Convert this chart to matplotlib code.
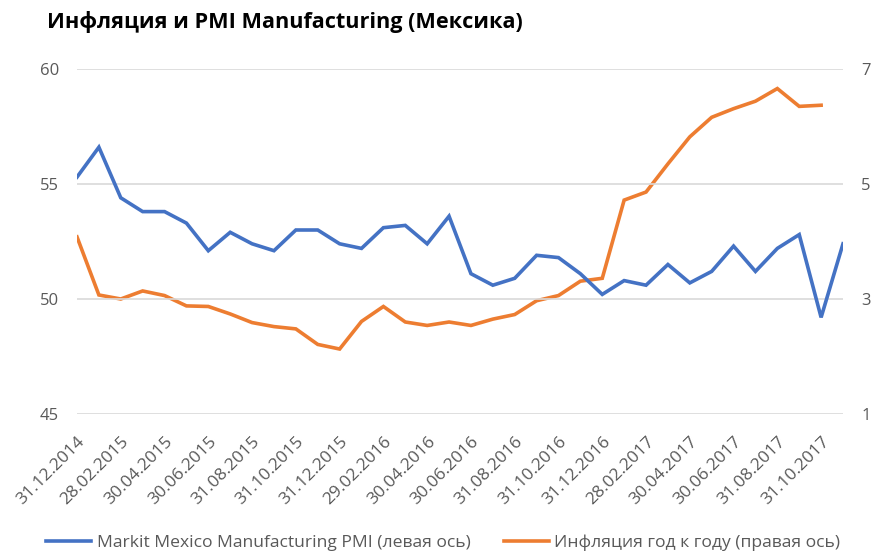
import numpy as np
import pandas as pd
from matplotlib import pyplot as plt

plt.rcParams['font.family'] = ['Open Sans', 'DejaVu Sans']

# Month-end dates, Dec 2014 .. Nov 2017
dates = pd.date_range("2014-12-31", periods=36, freq="ME").strftime("%d.%m.%Y").tolist()

# Markit Mexico Manufacturing PMI (left axis)
pmi = [55.3, 56.6, 54.4, 53.8, 53.8, 53.3, 52.1, 52.9, 52.4, 52.1,
       53.0, 53.0, 52.4, 52.2, 53.1, 53.2, 52.4, 53.6, 51.1, 50.6,
       50.9, 51.9, 51.8, 51.1, 50.2, 50.8, 50.6, 51.5, 50.7, 51.2,
       52.3, 51.2, 52.2, 52.8, 49.2, 52.4]

# Inflation y/y, % (right axis), through Oct 2017
inflation = [4.08, 3.07, 3.00, 3.14, 3.06, 2.88, 2.87, 2.74, 2.59, 2.52,
             2.48, 2.21, 2.13, 2.61, 2.87, 2.60, 2.54, 2.60, 2.54, 2.65,
             2.73, 2.97, 3.06, 3.31, 3.36, 4.72, 4.86, 5.35, 5.82, 6.16,
             6.31, 6.44, 6.66, 6.35, 6.37]

blue = "#4472C4"
orange = "#ED7D31"
gray_text = "#595959"

fig = plt.figure(figsize=(8.73, 5.53), dpi=100)
ax = fig.add_axes([77 / 873, 1 - 414 / 553, (843 - 77) / 873, (414 - 69) / 553])
ax2 = ax.twinx()

x_pmi = np.arange(len(pmi))
x_inf = np.arange(len(inflation))

l1, = ax.plot(x_pmi, pmi, color=blue, lw=2.6, solid_joinstyle="miter",
              label="Markit Mexico Manufacturing PMI (левая ось)", zorder=3)
l2, = ax2.plot(x_inf, inflation, color=orange, lw=2.6, solid_joinstyle="miter",
               label="Инфляция год к году (правая ось)", zorder=3)

ax.set_xlim(0, len(dates) - 1)
ax.set_ylim(45, 60)
ax.set_yticks([45, 50, 55, 60])
ax2.set_ylim(1, 7)
ax2.set_yticks([1, 3, 5, 7])

ax.grid(axis="y", color="#d9d9d9", lw=1.2)
ax.set_axisbelow(True)
ax.set_zorder(ax2.get_zorder() + 1)
ax.patch.set_visible(False)

ax.set_xticks(x_pmi[::2])
ax.set_xticklabels(dates[::2], rotation=45, ha="right", rotation_mode="anchor")

for a in (ax, ax2):
    for s in a.spines.values():
        s.set_visible(False)
    a.tick_params(length=0, labelcolor=gray_text)

ax.tick_params(axis="y", labelsize=12, pad=13)
ax2.tick_params(axis="y", labelsize=12, pad=13)
ax.tick_params(axis="x", labelsize=12.5, pad=14)

fig.text(47 / 873, 1 - 22 / 553, "Инфляция и PMI Manufacturing (Мексика)",
         fontsize=15.6, fontweight="bold", color="black", va="center", ha="left")

fig.legend(handles=[l1, l2], loc="center", bbox_to_anchor=(0.508, 1 - 543 / 553),
           ncol=2, frameon=False, fontsize=12.6, handlelength=2.57,
           handletextpad=0.29, columnspacing=1.95, labelcolor=gray_text)

plt.savefig("out.png")
